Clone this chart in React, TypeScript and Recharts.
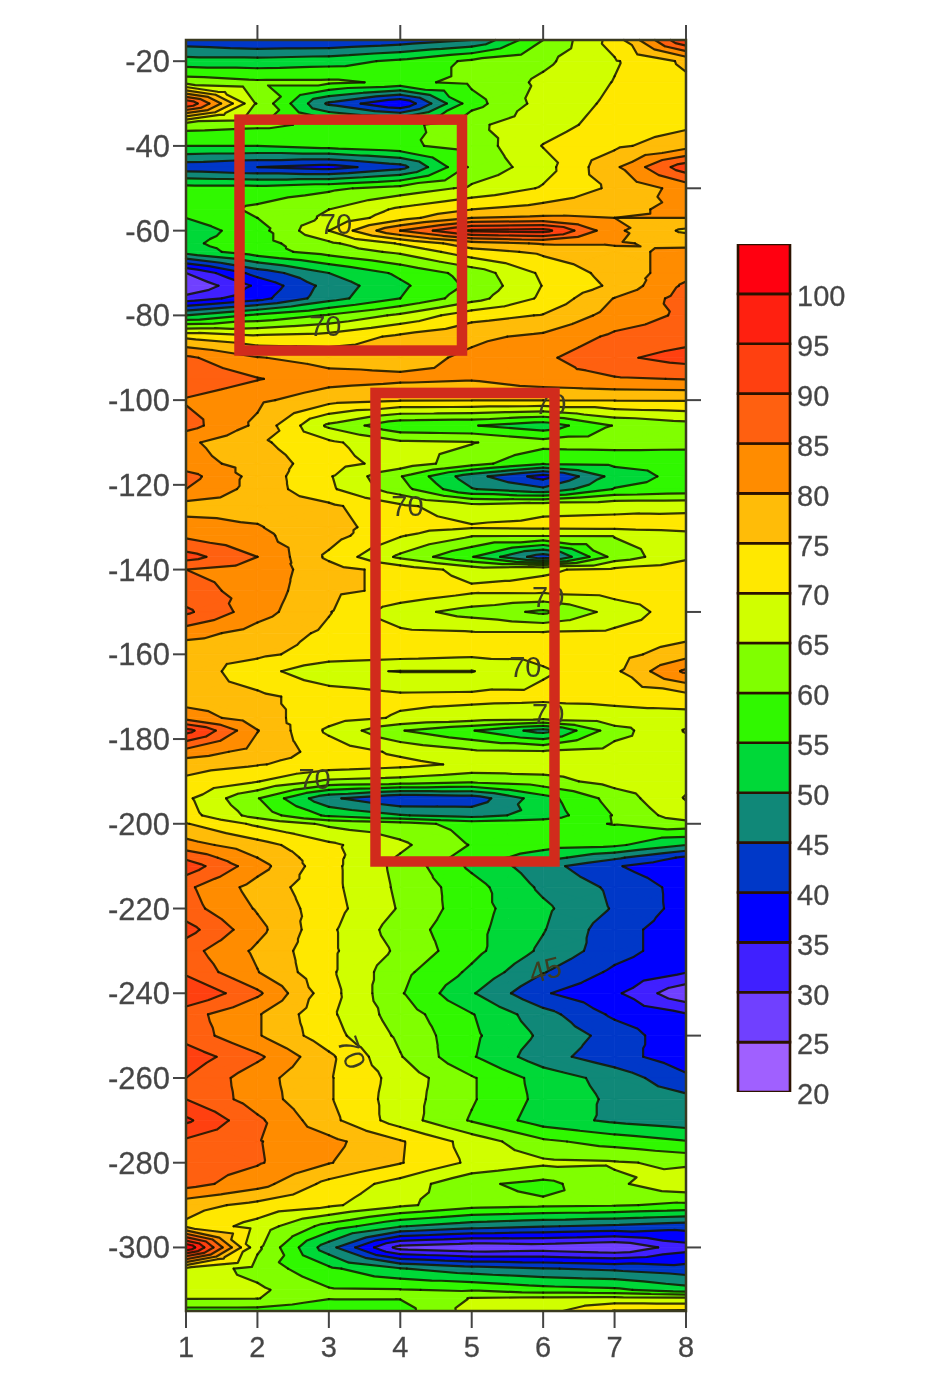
import React from 'react';
import { ComposedChart, BarChart, Bar, Scatter, XAxis, YAxis } from 'recharts';

const xPositions = [1, 2, 3, 4, 5, 6, 7, 8];
const depths = [-15,-20,-25,-30,-35,-40,-45,-50,-55,-57,-60,-63,-65,-70,-73,-76,-80,-85,-90,-95,-100,-106,-110,-115,-118,-121,-125,-130,-132,-137,-140,-145,-150,-155,-160,-164,-170,-175,-178,-183,-186,-190,-194,-198,-200,-205,-208,-210,-215,-220,-225,-230,-235,-240,-245,-250,-255,-260,-265,-270,-275,-280,-285,-290,-295,-300,-305,-310,-312,-315];

const upperRows = [
  [42,40,40,42,45,60,72,95],
  [52,52,53,56,61,64,69.5,76],
  [63,61,61,59,61,66,70.2,74],
  [95,64.5,44,35,58,67,71,73],
  [62,61,59,58,64,68,72,74],
  [55,55,57,59,62,70.2,74,78],
  [42,40,38,43,61,68,79,93],
  [57,57,59,62,66,70.5,76,82],
  [57,61,65,71,75,77,79,81],
  [55,60,66,73,80,81,80,80],
  [52,58,70,85,96,97,81,74],
  [54,58,64,70.5,78,80.5,80.4,79],
  [52,58,62,66,73,76,79,81],
  [30,42,50,56,62,71,77,83],
  [25,36,47,54,61,70.2,76,86],
  [32,38,48,55,63,71,80.2,87],
  [50,56,60.5,66,73,75.3,82,86],
  [74,71,72,76,79,81,86,88],
  [86,80.3,78,78,81,84,89,92],
  [89,85.3,82,81,80.4,83,84.5,85.2],
];
const middleRows = [
  [84.5,81,77,75.4,75.3,75.2,75.3,75.4],
  [87,79,64,56,55.3,52,60.3,63],
  [81,76,71,66,65.3,62,62.3,62],
  [82,78,72,68,62,55.3,56,56],
  [87,78,70.5,60.3,47,38,52,57],
  [85,78,71,62,50.3,46,55.3,57],
  [78,78.4,76,71,67,69,69.2,69],
  [82,80.3,77,72,70.5,71,71.2,72],
  [84,81,77,70.4,65.3,65.2,65.3,68],
  [92,85,74,64,55.3,42,62,69],
  [85,83,77,73,68,69.5,71,73],
  [87,83,76,74,71,71.2,72,73],
  [91,82,75.3,67,63,59,67,73],
  [82,78,74,71,70.5,70.5,71,73],
  [76,76,73,72,71,71.2,73,78],
  [78,72,66,64.8,64.8,69.5,74,86],
  [77,76,73,71,71.2,71,71.3,73],
  [83,77,72,69.5,68,67,68.3,68],
  [97,80.2,69,60.3,55.3,48,63,70.3],
  [83,78,73,69,66,65.5,67,68],
  [77,75.3,73,71.5,69,68,68.2,68],
  [74,70.2,64,63,61,63,67,69],
  [71,60.3,46,40.3,42,53,62,70.3],
  [72,63,54,50.3,48,52,60.3,68],
  [75.3,69,64,62,58,58.3,60.2,63],
  [82,77,71,66,59.7,57,56,50],
  [89,80,71.5,64.5,58,52,46,39],
];
const lowerRows = [
  [93,82,71.5,63.5,54,47,40.5,36],
  [86,78,71.5,64,57,49,44,38],
  [87,79.5,72,64.5,57,51,44.5,38],
  [92,81.5,71,62.5,56.5,50.3,42,37],
  [87,79,71,64,56.5,49,42,37],
  [89,80.2,71,61.5,54,45.3,39,35.3],
  [95,86,72,60.5,50.5,40.5,36,26],
  [87,80.5,71,62.5,55.3,47,39,35.5],
  [88,80.5,72,64,56,49,43,36],
  [93,86,76,65.3,55.5,47,42,37],
  [90,82,75.5,68,60.5,53,48,41],
  [90,82.5,75.5,67.5,60.5,53.5,49,46.5],
  [96,86,76.5,67.5,59.5,52.5,49,47],
  [89,85.3,81.5,75.5,68,61,58,55.3],
  [88,85.5,80.3,75.3,69,66,65.5,64],
  [87,82,73.5,68,61,58.5,64,69],
  [77,73.5,71,66,62,61,60.5,59],
  [74,68,58,50.3,47,45.3,44,42],
  [105,66,47,28,26,27,25.3,33],
  [69,63,56,50.3,47,45.3,44,42],
  [68,66,60.5,60.2,59.5,57,56,52],
  [65.3,65.2,60.3,60.2,65.3,66,66.5,66],
  [58,58,56,58,67,68,75.3,75.6],
];
const gridRows = [...upperRows, ...middleRows, ...lowerRows];

const bandFloors = [20,25,30,35,40,45,50,55,60,65,70,75,80,85,90,95,100];
const bandColors = ['#A060FF','#7040FF','#4020FF','#0000FF','#0038C8','#108878','#00D838','#30F800','#80FF00','#D0FF00','#FFE800','#FFBC08','#FF8C00','#FF6010','#FF4010','#FF2010','#FF0010'];
const bandWidth = 5;
const legendTicks = [20,25,30,35,40,45,50,55,60,65,70,75,80,85,90,95,100];

const leftTicks = [-20,-40,-60,-80,-100,-120,-140,-160,-180,-200,-220,-240,-260,-280,-300];
const rightTicks = [-50,-100,-150,-200,-250,-300];
const topTicks = [2,4,6,8];

const frameBox = [{ x: 1, y: -15, x2: 8, y2: -315 }];
const redBoxes = [
  { x: 1.749, x2: 4.864, y: -33.8, y2: -88.3 },
  { x: 3.653, x2: 6.159, y: -98.3, y2: -208.9 },
];
const contourLabels = [
  { x: 3.1, y: -58.5, text: '70', angle: 0 },
  { x: 2.95, y: -82.5, text: '70', angle: 0 },
  { x: 6.1, y: -101, text: '70', angle: 0 },
  { x: 4.1, y: -125, text: '70', angle: 0 },
  { x: 6.07, y: -146.5, text: '70', angle: 0 },
  { x: 5.75, y: -163, text: '70', angle: 0 },
  { x: 6.07, y: -174, text: '70', angle: 0 },
  { x: 2.8, y: -189.5, text: '70', angle: 0 },
  { x: 3.32, y: -254, text: '70', angle: 70 },
  { x: 6.03, y: -234.5, text: '45', angle: -15 },
];

const PLOT_W = 500;
const PLOT_H = 1271;
const pxPerX = PLOT_W / 7;
const pxPerM = PLOT_H / 300;

type P = { x: number; y: number; v: number };

const cellData: { x: number; y: number; col: number; row: number }[] = [];
depths.slice(0, -1).forEach((d, row) => {
  xPositions.slice(0, -1).forEach((x, col) => cellData.push({ x, y: d, col, row }));
});

function triangles(cx: number, cy: number, col: number, row: number): P[][] {
  const h = (depths[row] - depths[row + 1]) * pxPerM;
  const w = pxPerX;
  const a: P = { x: cx, y: cy, v: gridRows[row][col] };
  const b: P = { x: cx + w, y: cy, v: gridRows[row][col + 1] };
  const c: P = { x: cx + w, y: cy + h, v: gridRows[row + 1][col + 1] };
  const d: P = { x: cx, y: cy + h, v: gridRows[row + 1][col] };
  const m: P = { x: cx + w / 2, y: cy + h / 2, v: (a.v + b.v + c.v + d.v) / 4 };
  return [[a, b, m], [b, c, m], [c, d, m], [d, a, m]];
}

function lerp(p: P, q: P, level: number): P {
  const t = (level - p.v) / (q.v - p.v);
  return { x: p.x + (q.x - p.x) * t, y: p.y + (q.y - p.y) * t, v: level };
}

function clip(poly: P[], level: number, keepAbove: boolean): P[] {
  const out: P[] = [];
  const inside = (p: P) => (keepAbove ? p.v >= level : p.v <= level);
  poly.forEach((p, i) => {
    const q = poly[(i + 1) % poly.length];
    if (inside(p)) out.push(p);
    if (inside(p) !== inside(q)) out.push(lerp(p, q, level));
  });
  return out;
}

const pathOf = (poly: P[]) =>
  'M' + poly.map((p) => `${p.x.toFixed(2)},${p.y.toFixed(2)}`).join('L') + 'Z';

function BandCell(props: any) {
  const { cx, cy, payload } = props;
  if (cx == null || cy == null) return null;
  const tris = triangles(cx, cy, payload.col, payload.row);
  const paths: React.ReactNode[] = [];
  bandFloors.forEach((lo, bi) => {
    let d = '';
    tris.forEach((t) => {
      let poly = t;
      if (bi > 0) poly = clip(poly, lo, true);
      if (poly.length && bi < bandFloors.length - 1) poly = clip(poly, lo + bandWidth, false);
      if (poly.length >= 3) d += pathOf(poly);
    });
    if (d) paths.push(<path key={lo} d={d} fill={bandColors[bi]} stroke={bandColors[bi]} strokeWidth={0.7} />);
  });
  return <g>{paths}</g>;
}

function LineCell(props: any) {
  const { cx, cy, payload } = props;
  if (cx == null || cy == null) return null;
  const tris = triangles(cx, cy, payload.col, payload.row);
  let d = '';
  for (let level = 25; level <= 105; level += bandWidth) {
    tris.forEach((t) => {
      const pts: P[] = [];
      t.forEach((p, i) => {
        const q = t[(i + 1) % 3];
        if (p.v >= level !== q.v >= level) pts.push(lerp(p, q, level));
      });
      if (pts.length === 2) {
        d += `M${pts[0].x.toFixed(2)},${pts[0].y.toFixed(2)}L${pts[1].x.toFixed(2)},${pts[1].y.toFixed(2)}`;
      }
    });
  }
  return d ? <path d={d} fill="none" stroke="#141400" strokeWidth={2.2} strokeOpacity={0.85} strokeLinecap="round" /> : null;
}

function ContourLabel(props: any) {
  const { cx, cy, payload } = props;
  if (cx == null || cy == null) return null;
  return (
    <text
      x={cx}
      y={cy}
      transform={`rotate(${payload.angle} ${cx} ${cy})`}
      textAnchor="middle"
      dominantBaseline="central"
      fontFamily="Liberation Sans, Arial, sans-serif"
      fontSize={29}
      fill="#3d3d20"
    >
      {payload.text}
    </text>
  );
}

function boxShape(stroke: string, strokeWidth: number) {
  return function Box(props: any) {
    const { cx, cy, payload } = props;
    if (cx == null || cy == null) return null;
    return (
      <rect
        x={cx}
        y={cy}
        width={(payload.x2 - payload.x) * pxPerX}
        height={(payload.y - payload.y2) * pxPerM}
        fill="none"
        stroke={stroke}
        strokeWidth={strokeWidth}
      />
    );
  };
}
const FrameShape = boxShape('#3a3a20', 2.5);
const RedShape = boxShape('#D12B1C', 10.5);
const NoShape = () => <g />;

const axisColor = '#444';
const tickBase = { fontFamily: 'Liberation Sans, Arial, sans-serif', fill: '#454545', stroke: '#555', strokeWidth: 0.3 };
const emptyTick = () => <g />;
const legendRow = [
  Object.fromEntries(bandFloors.map((f, i) => [`b${f}`, i === 0 ? f + bandWidth : bandWidth]).concat([['name', 'scale']])),
];

export default function App() {
  return (
    <div style={{ position: 'absolute', left: 0, top: 0, width: 945, height: 1385, background: '#fff', filter: 'blur(0.7px)', overflow: 'hidden' }}>
      <div style={{ position: 'absolute', left: 0, top: 0 }}>
        <ComposedChart width={945} height={1385} margin={{ top: 30, right: 209, bottom: 0, left: 66 }}>
          <XAxis xAxisId={0} type="number" dataKey="x" domain={[1, 8]} ticks={xPositions} height={74} tickSize={17} tickMargin={8} tick={{ ...tickBase, fontSize: 29 }} stroke={axisColor} strokeWidth={2} interval={0} />
          <XAxis xAxisId="top" orientation="top" type="number" dataKey="x" domain={[1, 8]} ticks={topTicks} height={10} tick={emptyTick} tickSize={15} stroke={axisColor} strokeWidth={2} interval={0} />
          <YAxis yAxisId={0} type="number" dataKey="y" domain={[-315, -15]} ticks={leftTicks} width={120} tickSize={13} tickMargin={3} tick={{ ...tickBase, fontSize: 31 }} stroke={axisColor} strokeWidth={2} interval={0} />
          <YAxis yAxisId="right" orientation="right" type="number" dataKey="y" domain={[-315, -15]} ticks={rightTicks} width={50} tick={emptyTick} tickSize={15} stroke={axisColor} strokeWidth={2} interval={0} />
          <Scatter data={cellData} dataKey="y" isAnimationActive={false} shape={BandCell} />
          <Scatter data={cellData} dataKey="y" isAnimationActive={false} shape={LineCell} />
          <Scatter data={frameBox} dataKey="y" isAnimationActive={false} shape={FrameShape} />
          <Scatter data={contourLabels} dataKey="y" isAnimationActive={false} shape={ContourLabel} />
          <Scatter data={redBoxes} dataKey="y" isAnimationActive={false} shape={RedShape} />
          <Scatter xAxisId="top" yAxisId="right" data={frameBox} dataKey="y" isAnimationActive={false} shape={NoShape} />
        </ComposedChart>
      </div>
      <div style={{ position: 'absolute', left: 700, top: 200 }}>
        <BarChart width={245} height={950} data={legendRow} margin={{ top: 44, right: 0, bottom: 58, left: 38 }} barCategoryGap={0}>
          <XAxis dataKey="name" hide />
          <YAxis orientation="right" type="number" domain={[20, 105]} ticks={legendTicks} allowDataOverflow width={155} tickSize={0} tickMargin={7} axisLine={false} tick={{ ...tickBase, fontSize: 29, dy: 2, textAnchor: 'start' }} interval={0} />
          {bandFloors.map((f, i) => (
            <Bar key={f} dataKey={`b${f}`} stackId="scale" fill={bandColors[i]} stroke="#2c1200" strokeWidth={2.6} isAnimationActive={false} />
          ))}
        </BarChart>
      </div>
    </div>
  );
}
